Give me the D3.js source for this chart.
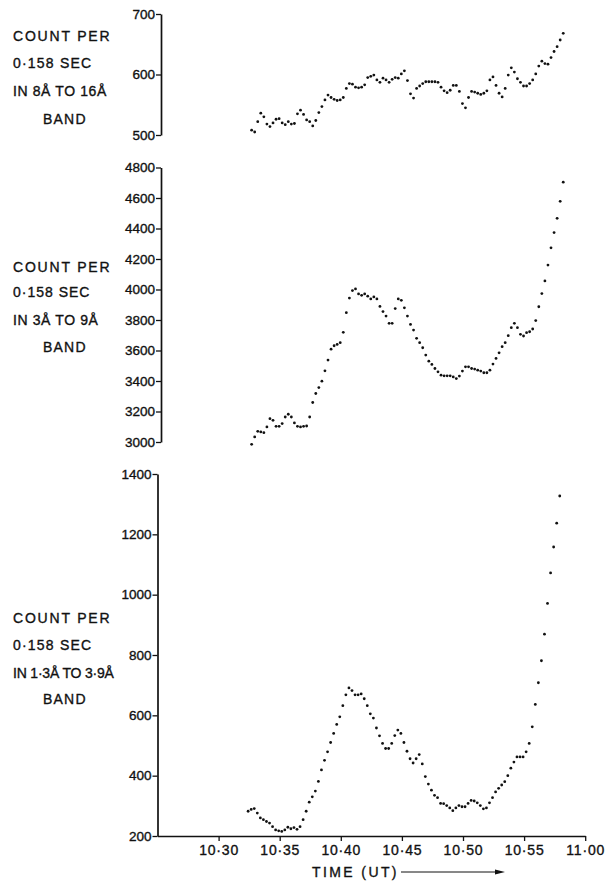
<!DOCTYPE html>
<html>
<head>
<meta charset="utf-8">
<script src="https://cdn.jsdelivr.net/npm/d3@7"></script>
<style>
  html, body { margin: 0; padding: 0; background: #fff; }
  svg { display: block; }
  text { font-family: "Liberation Sans", Arial, sans-serif; fill: #111; }
</style>
</head>
<body>
<svg id="chart" width="607" height="888"></svg>
<script>
// ---- data ----
const sampleStart = "10:32:25";   // first sample time (UT)
const sampleStepSeconds = 15;     // spacing between samples

const band8to16 = [508,505,522,536,530,518,514,520,526,527,520,517,522,518,519,535,541,534,525,522,
  515,524,537,547,558,566,562,559,557,558,562,577,585,584,579,578,579,583,595,597,
  599,591,587,594,591,587,592,595,594,601,606,590,568,561,577,581,585,588,588,588,
  588,587,579,573,570,574,582,582,572,552,545,562,572,571,569,567,569,573,591,596,
  582,569,563,577,599,611,604,593,587,581,581,585,591,601,614,622,618,617,628,638,
  646,657,668];

const band3to9 = [2985,3033,3070,3066,3061,3099,3153,3142,3103,3103,3121,3164,3182,3164,3125,3103,3099,3103,3105,3164,
  3259,3318,3357,3399,3467,3537,3609,3631,3640,3651,3719,3848,3944,3993,4004,3971,3962,3971,3956,3938,
  3951,3938,3889,3855,3826,3778,3778,3875,3938,3929,3880,3826,3771,3734,3680,3651,3618,3570,3530,3509,
  3482,3460,3438,3434,3434,3434,3427,3416,3432,3465,3493,3493,3482,3478,3471,3465,3454,3454,3471,3511,
  3548,3585,3625,3651,3697,3750,3778,3750,3706,3695,3717,3723,3741,3796,3887,3973,4056,4160,4273,4373,
  4467,4578,4704];

const band13to39 = [282,288,291,276,260,254,248,243,231,220,217,215,220,229,224,228,222,231,254,282,
  312,330,349,381,419,451,479,510,540,570,595,632,668,691,682,668,668,671,655,632,
  605,591,558,532,507,490,490,507,533,551,540,510,481,456,442,456,470,439,397,372,
  352,335,327,308,307,301,293,284,293,301,297,297,308,318,316,310,301,290,293,310,
  327,346,358,369,380,400,425,445,462,462,462,479,507,562,636,708,781,869,971,1072,
  1158,1237,1327];

const ticksTop = [500, 600, 700];
const ticksMid = [3000, 3200, 3400, 3600, 3800, 4000, 4200, 4400, 4600, 4800];
const ticksBot = [200, 400, 600, 800, 1000, 1200, 1400];
const timeTicks = ["10:30", "10:35", "10:40", "10:45", "10:50", "10:55", "11:00"];
const timeDomain = ["10:25", "11:00"];

const labelTop = ["COUNT PER", "0·158 SEC", "IN 8Å TO 16Å", "BAND"];
const labelMid = ["COUNT PER", "0·158 SEC", "IN 3Å TO 9Å", "BAND"];
const labelBot = ["COUNT PER", "0·158 SEC", "IN 1·3Å TO 3·9Å", "BAND"];
const xAxisTitle = "TIME (UT)";

// ---- helpers ----
const parseT = s => {
  const p = s.split(":").map(Number);
  return new Date(1970, 0, 1, p[0], p[1], p[2] || 0);
};
const t0 = parseT(sampleStart);
const times = band8to16.map((_, i) => new Date(t0.getTime() + i * sampleStepSeconds * 1000));

const svg = d3.select("#chart");
const ink = "#111";
const heavy = sel => sel.attr("stroke", ink).attr("stroke-width", 0.35).attr("paint-order", "stroke");

const panels = [
  { values: band8to16, ticks: ticksTop, domain: [500, 700], axisX: 161, yTop: 14, yBot: 135,
    label: labelTop, labelY: [41, 68, 96, 124], labelSpacing: [1.8, 1.2, 0.6, 1.2], xAxis: false },
  { values: band3to9, ticks: ticksMid, domain: [3000, 4800], axisX: 161, yTop: 167.5, yBot: 442,
    label: labelMid, labelY: [272, 297, 325, 352], labelSpacing: [1.8, 1.0, 0.6, 1.2], xAxis: false },
  { values: band13to39, ticks: ticksBot, domain: [200, 1400], axisX: 157.5, yTop: 474, yBot: 836,
    label: labelBot, labelY: [623, 650, 678, 704], labelSpacing: [1.8, 1.2, -0.2, 1.2], xAxis: true }
];

const pxPerMinute = 12.22;

panels.forEach(p => {
  const x = d3.scaleTime()
    .domain(timeDomain.map(parseT))
    .range([p.axisX, p.axisX + 35 * pxPerMinute]);
  const y = d3.scaleLinear().domain(p.domain).range([p.yBot, p.yTop]);

  // y axis
  const gy = svg.append("g").attr("transform", `translate(${p.axisX},0)`)
    .call(d3.axisLeft(y).tickValues(p.ticks).tickSize(5).tickSizeOuter(0).tickPadding(1)
      .tickFormat(d3.format("d")));
  gy.select(".domain").attr("stroke", ink).attr("stroke-width", 1.7);
  gy.selectAll(".tick line").attr("stroke", ink).attr("stroke-width", 1.3);
  gy.selectAll(".tick text").attr("font-size", 13.5).attr("fill", ink)
    .attr("font-family", "'Liberation Sans', Arial, sans-serif").call(heavy);

  // x axis only on bottom panel
  if (p.xAxis) {
    const gx = svg.append("g").attr("transform", `translate(0,${p.yBot})`)
      .call(d3.axisBottom(x).tickValues(timeTicks.map(parseT)).tickSize(5).tickSizeOuter(0)
        .tickPadding(4).tickFormat(d3.timeFormat("%H·%M")));
    gx.select(".domain").attr("stroke", ink).attr("stroke-width", 1.7);
    gx.selectAll(".tick line").attr("stroke", ink).attr("stroke-width", 1.3);
    gx.selectAll(".tick text").attr("font-size", 14).attr("fill", ink)
      .attr("letter-spacing", 0.8)
      .attr("font-family", "'Liberation Sans', Arial, sans-serif").call(heavy);

    // axis title with arrow
    svg.append("text").attr("x", 312).attr("y", 877)
      .attr("font-size", 14).attr("letter-spacing", 2.4).text(xAxisTitle).call(heavy);
    svg.append("line").attr("x1", 401).attr("x2", 497).attr("y1", 872).attr("y2", 872)
      .attr("stroke", ink).attr("stroke-width", 1);
    svg.append("path").attr("d", "M495,869.5 L505,872 L495,874.5 Z").attr("fill", ink);
  }

  // data points
  svg.append("g").selectAll("circle").data(p.values).join("circle")
    .attr("cx", (d, i) => x(times[i]))
    .attr("cy", d => y(d))
    .attr("r", 1.4)
    .attr("fill", ink);

  // left label
  svg.append("g").selectAll("text").data(p.label).join("text")
    .attr("x", (d, i) => i === 3 ? 43 : 13)
    .attr("y", (d, i) => p.labelY[i])
    .attr("font-size", 14)
    .attr("letter-spacing", (d, i) => p.labelSpacing[i])
    .text(d => d)
    .call(heavy);
});
</script>
</body>
</html>
